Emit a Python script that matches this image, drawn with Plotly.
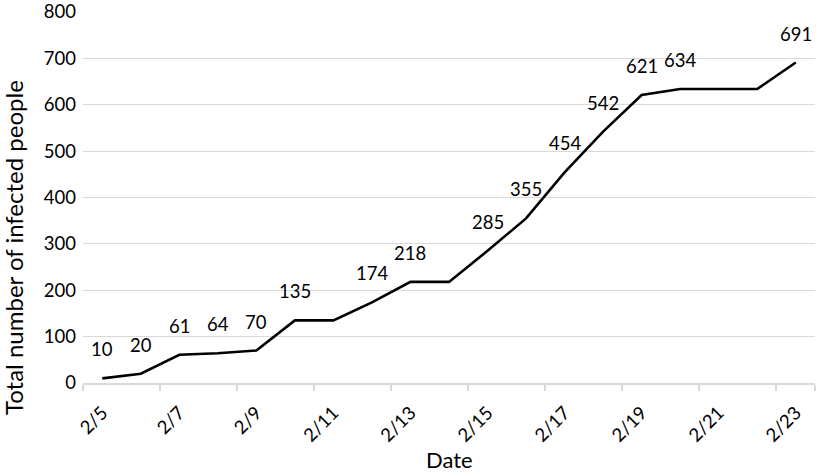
import plotly.graph_objects as go

dates = ["2/5", "2/6", "2/7", "2/8", "2/9", "2/10", "2/11", "2/12", "2/13", "2/14",
         "2/15", "2/16", "2/17", "2/18", "2/19", "2/20", "2/21", "2/22", "2/23"]
infected = [10, 20, 61, 64, 70, 135, 135, 174, 218, 218,
            285, 355, 454, 542, 621, 634, 634, 634, 691]
# which points carry a data label in the reference
labelled = [True, True, True, True, True, True, False, True, True, False,
            True, True, True, True, True, True, False, False, True]
y_ticks = [0, 100, 200, 300, 400, 500, 600, 700, 800]

FONT = "Lato"
idx = list(range(len(dates)))

fig = go.Figure()
fig.add_trace(go.Scatter(x=idx, y=infected, mode="lines",
                         line=dict(color="black", width=2.6),
                         hoverinfo="skip", showlegend=False))

annotations = []
for i, v, show in zip(idx, infected, labelled):
    if show:
        annotations.append(dict(x=i, y=v, xref="x", yref="y", text=str(v),
                                showarrow=False, yshift=29,
                                xanchor="center", yanchor="middle",
                                font=dict(family=FONT, size=18.5, color="black")))
annotations.append(dict(x=-0.095, y=0.365, xref="paper", yref="paper",
                        text="Total number of infected people", textangle=-90,
                        showarrow=False, xanchor="center", yanchor="middle",
                        font=dict(family=FONT, size=24, color="black")))
annotations.append(dict(x=0.5, y=-0.207, xref="paper", yref="paper",
                        text="Date", showarrow=False,
                        xanchor="center", yanchor="middle",
                        font=dict(family=FONT, size=22, color="black")))

fig.update_layout(
    width=819, height=473,
    margin=dict(l=83, r=4, t=12, b=90, autoexpand=False),
    plot_bgcolor="white", paper_bgcolor="white",
    font=dict(family=FONT, size=18.5, color="black"),
    annotations=annotations,
    xaxis=dict(
        range=[-0.5, len(dates) - 0.5],
        tickmode="array",
        tickvals=idx[::2], ticktext=dates[::2],
        tickangle=-45, ticks="", showgrid=False,
        showline=True, linecolor="#d9d9d9", linewidth=1.5,
        zeroline=False, automargin=False,
        ticklabelstandoff=10,
        minor=dict(tickmode="array",
                   tickvals=[i - 0.5 for i in idx[::2]] + [len(dates) - 0.5],
                   ticks="outside", ticklen=6, tickcolor="#d9d9d9",
                   tickwidth=1.5, showgrid=False),
        tickfont=dict(family=FONT, size=18.5),
    ),
    yaxis=dict(
        range=[0, 800.01], tickmode="array", tickvals=y_ticks,
        showgrid=True, gridcolor="#d9d9d9", gridwidth=1.2,
        zeroline=False, showline=False, ticks="", automargin=False,
        ticklabelstandoff=6, ticklabeloverflow="allow",
        tickfont=dict(family=FONT, size=18.5),
    ),
)

fig.write_html("out.html", config={"displayModeBar": False},
               post_script="document.body.style.margin='0';document.body.style.padding='0';")
